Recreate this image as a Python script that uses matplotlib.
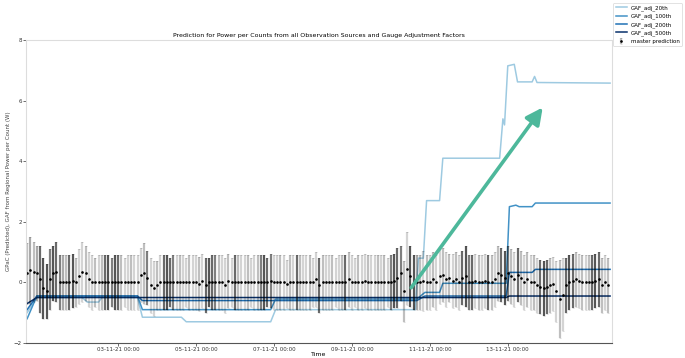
import matplotlib
matplotlib.use("Agg")
import matplotlib.pyplot as plt
import matplotlib.dates as mdates
import pandas as pd
import numpy as np

# GAF adjusted predictions (change points of each step line)
times20 = ['2021-10-31 16:00', '2021-10-31 22:00', '2021-11-02 02:00', '2021-11-02 05:00',
           '2021-11-02 12:00', '2021-11-02 14:00', '2021-11-03 12:00', '2021-11-03 15:00',
           '2021-11-04 15:00', '2021-11-04 18:00', '2021-11-06 22:00', '2021-11-07 01:00',
           '2021-11-10 15:00', '2021-11-10 17:00', '2021-11-10 20:00', '2021-11-10 22:00',
           '2021-11-11 06:00', '2021-11-11 08:00', '2021-11-12 19:00', '2021-11-12 21:00',
           '2021-11-12 22:00', '2021-11-13 00:00', '2021-11-13 04:00', '2021-11-13 06:00',
           '2021-11-13 15:00', '2021-11-13 16:30', '2021-11-13 18:00', '2021-11-15 15:00']
vals20 = [-1.0, -0.5, -0.5, -0.65, -0.65, -0.5, -0.5, -1.15,
          -1.15, -1.3, -1.3, -0.9, -0.9, 0.8, 0.8, 2.7,
          2.7, 4.1, 4.1, 5.4, 5.2, 7.15, 7.2, 6.62,
          6.62, 6.8, 6.6, 6.58]

times100 = ['2021-10-31 16:00', '2021-10-31 22:00', '2021-11-03 12:00', '2021-11-03 15:00',
            '2021-11-06 22:00', '2021-11-07 01:00', '2021-11-10 16:00', '2021-11-10 21:00',
            '2021-11-11 06:00', '2021-11-11 08:00', '2021-11-12 23:00', '2021-11-13 01:00',
            '2021-11-13 05:00', '2021-11-13 07:00', '2021-11-13 15:00', '2021-11-13 17:00',
            '2021-11-15 15:00']
vals100 = [-1.2, -0.45, -0.45, -0.9, -0.9, -0.55, -0.55, -0.33,
           -0.33, -0.03, -0.03, 2.5, 2.55, 2.5, 2.5, 2.62,
           2.62]

times200 = ['2021-10-31 16:00', '2021-10-31 22:00', '2021-11-03 12:00', '2021-11-03 15:00',
            '2021-11-10 16:00', '2021-11-10 21:00', '2021-11-12 23:00', '2021-11-13 01:00',
            '2021-11-13 15:00', '2021-11-13 17:00', '2021-11-15 15:00']
vals200 = [-0.9, -0.45, -0.45, -0.6, -0.6, -0.45, -0.45, 0.33, 0.33, 0.43, 0.43]

times500 = ['2021-10-31 16:00', '2021-10-31 22:00', '2021-11-10 16:00', '2021-11-10 21:00',
            '2021-11-12 23:00', '2021-11-13 01:00', '2021-11-15 15:00']
vals500 = [-0.7, -0.5, -0.5, -0.5, -0.5, -0.45, -0.45]

# master prediction, every 2 hours from 31-10-21 16:00 (one row per day)
master = [
    0.3, 0.4, 0.35, 0.3, 0.1, -0.2, -0.3, 0.1, 0.3, 0.35, 0.0, 0.0,
    0.0, 0.0, 0.05, 0.0, 0.2, 0.35, 0.3, 0.1, 0.0, 0.0, 0.0, 0.0,
    0.0, 0.0, 0.0, 0.0, 0.0, 0.0, 0.0, 0.0, 0.0, 0.0, 0.0, 0.25,
    0.3, 0.15, -0.1, -0.2, -0.1, 0.0, 0.0, 0.0, 0.0, 0.0, 0.0, 0.0,
    0.0, 0.0, 0.0, 0.0, 0.0, -0.05, 0.05, -0.1, 0.0, 0.0, 0.0, 0.0,
    0.0, -0.1, 0.05, 0.0, 0.0, 0.0, 0.0, 0.0, 0.0, 0.0, 0.0, 0.0,
    0.0, 0.0, 0.0, 0.05, 0.0, 0.0, 0.0, 0.0, -0.05, 0.0, 0.0, 0.0,
    0.0, 0.0, 0.0, 0.0, 0.0, 0.1, -0.1, 0.0, 0.0, 0.0, 0.0, 0.0,
    0.0, 0.0, 0.0, 0.1, 0.0, 0.0, 0.0, 0.0, 0.05, 0.0, 0.0, 0.0,
    0.0, 0.0, 0.0, 0.0, 0.0, 0.05, 0.15, 0.3, -0.3, 0.45, 0.2, 0.0,
    0.0, 0.0, 0.05, 0.0, 0.0, 0.1, 0.0, 0.2, 0.25, 0.1, 0.15, 0.05,
    0.1, 0.0, 0.15, 0.2, 0.0, 0.0, 0.05, 0.0, 0.0, 0.05, 0.0, 0.0,
    0.1, 0.3, 0.25, 0.15, 0.3, 0.2, 0.1, 0.25, 0.15, 0.0, 0.1, 0.0,
    0.0, -0.1, -0.15, -0.2, -0.15, -0.1, -0.05, -0.3, -0.55, -0.4, -0.1, 0.0,
    0.05, 0.1, 0.05, 0.0, 0.0, 0.0, 0.0, 0.05, 0.1, -0.1, 0.0, -0.1,
]
master_err = [
    1.0, 1.1, 1.0, 0.9, 1.1, 1.0, 0.9, 1.0, 0.9, 1.0, 0.9, 0.9,
    0.9, 0.9, 0.9, 0.8, 0.9, 1.0, 0.9, 0.9, 0.9, 0.8, 0.9, 0.9,
    0.9, 0.9, 0.8, 0.9, 0.9, 0.9, 0.8, 0.9, 0.9, 0.9, 0.9, 0.9,
    1.0, 0.9, 0.9, 0.9, 0.8, 0.9, 0.9, 0.9, 0.8, 0.9, 0.9, 0.9,
    0.9, 0.8, 0.9, 0.9, 0.9, 0.9, 0.9, 0.9, 0.8, 0.9, 0.9, 0.9,
    0.9, 0.9, 0.9, 0.8, 0.9, 0.9, 0.9, 0.9, 0.9, 0.8, 0.9, 0.9,
    0.9, 0.9, 0.8, 0.9, 0.9, 0.9, 0.9, 0.9, 0.8, 0.9, 0.9, 0.9,
    0.9, 0.9, 0.9, 0.9, 0.8, 0.9, 0.9, 0.9, 0.9, 0.9, 0.9, 0.8,
    0.9, 0.9, 0.9, 0.9, 0.9, 0.8, 0.9, 0.9, 0.9, 0.9, 0.9, 0.9,
    0.9, 0.9, 0.9, 0.8, 0.9, 0.9, 1.0, 0.9, 1.0, 1.2, 1.0, 0.9,
    0.9, 0.9, 1.0, 0.9, 0.9, 0.9, 0.9, 0.9, 0.9, 0.9, 0.8, 0.9,
    0.9, 0.9, 0.9, 1.0, 0.9, 0.9, 0.9, 0.9, 0.9, 0.9, 0.9, 0.9,
    0.9, 0.9, 0.9, 0.9, 0.9, 0.9, 0.9, 0.9, 0.9, 0.9, 0.9, 0.9,
    0.9, 0.9, 0.9, 0.9, 0.9, 0.9, 0.9, 1.0, 1.3, 1.2, 0.9, 0.9,
    0.9, 0.9, 0.9, 0.9, 0.9, 0.9, 0.9, 0.9, 0.9, 0.9, 0.9, 0.9,
]
# how dark each error bar is drawn (1 = faint, 9 = almost black)
bar_shade = [
    3, 4, 3, 4, 7, 8, 8, 6, 8, 7, 6, 4,
    3, 7, 8, 3, 2, 2, 3, 2, 2, 3, 2, 3,
    7, 8, 6, 8, 7, 3, 2, 2, 3, 2, 2, 2,
    3, 6, 2, 2, 3, 2, 7, 8, 7, 6, 2, 3,
    2, 2, 3, 2, 2, 3, 2, 7, 8, 7, 6, 3,
    2, 2, 3, 2, 7, 3, 2, 2, 3, 2, 2, 3,
    6, 8, 7, 6, 2, 2, 3, 2, 2, 3, 2, 7,
    3, 2, 2, 3, 2, 2, 7, 3, 2, 2, 3, 2,
    2, 3, 7, 3, 2, 2, 3, 2, 2, 3, 2, 2,
    3, 2, 3, 2, 6, 8, 7, 6, 3, 2, 8, 8,
    4, 3, 2, 3, 2, 3, 2, 2, 3, 2, 3, 2,
    3, 2, 7, 8, 6, 7, 2, 3, 2, 2, 7, 3,
    2, 3, 7, 8, 6, 3, 2, 7, 3, 2, 3, 2,
    3, 2, 7, 8, 7, 3, 2, 2, 3, 2, 7, 8,
    7, 3, 2, 3, 2, 3, 7, 8, 7, 3, 2, 3,
]
master_times = pd.date_range('2021-10-31 16:00', periods=len(master), freq='2h')

fig = plt.figure(figsize=(6.85, 3.58), dpi=100)
ax = fig.add_axes([0.038, 0.042, 0.855, 0.846])

ax.plot(pd.to_datetime(times20), vals20, color='#9ecae1', lw=1.1, label='GAF_adj_20th')
ax.plot(pd.to_datetime(times100), vals100, color='#4292c6', lw=1.1, label='GAF_adj_100th')
ax.plot(pd.to_datetime(times200), vals200, color='#2171b5', lw=1.1, label='GAF_adj_200th')
ax.plot(pd.to_datetime(times500), vals500, color='#08306b', lw=1.1, label='GAF_adj_500th')

eb = ax.errorbar(master_times, master, yerr=master_err, fmt='o', ms=0.9, color='k',
                 ecolor='k', elinewidth=1.6, capsize=0.8, capthick=0.5,
                 label='master prediction')
eb[2][0].set_color([(0, 0, 0, s / 12) for s in bar_shade])
for cap in eb[1]:
    cap.set_alpha(0.2)

# arrow pointing at the rise of the adjusted predictions
ax.annotate('', xy=(pd.Timestamp('2021-11-13 22:30'), 5.85),
            xytext=(pd.Timestamp('2021-11-10 11:30'), -0.25),
            arrowprops=dict(arrowstyle='-|>', color='#4db89b', lw=2.6, mutation_scale=25))

ax.set_xlim(pd.Timestamp('2021-10-31 15:20'), pd.Timestamp('2021-11-15 16:00'))
ax.set_ylim(-2, 8)
ax.set_yticks([-2, 0, 2, 4, 6, 8])
ax.xaxis.set_major_locator(mdates.DayLocator(bymonthday=[3, 5, 7, 9, 11, 13]))
ax.xaxis.set_major_formatter(mdates.DateFormatter('%d-%m-%y %H:%M'))
ax.tick_params(labelsize=4, length=2, width=0.5, pad=1, colors='#333333')

for side in ['top', 'left', 'right']:
    ax.spines[side].set_color('#dddddd')
ax.spines['bottom'].set_color('#555555')

ax.set_title('Prediction for Power per Counts from all Observation Sources and Gauge Adjustment Factors',
             fontsize=4.5, pad=2)
ax.set_xlabel('Time', fontsize=4.5, labelpad=0)
ax.set_ylabel('GPaC (Predicted), GAF from Regional Power per Count (W)', fontsize=4, labelpad=2,
              color='#444444')

leg = fig.legend(loc='upper right', bbox_to_anchor=(1.0, 1.0), fontsize=4, frameon=True,
                 handlelength=2, borderpad=0.4, labelspacing=0.5)
leg.get_frame().set_edgecolor('#cccccc')
leg.get_frame().set_linewidth(0.5)

fig.savefig('out.png', dpi=100)
